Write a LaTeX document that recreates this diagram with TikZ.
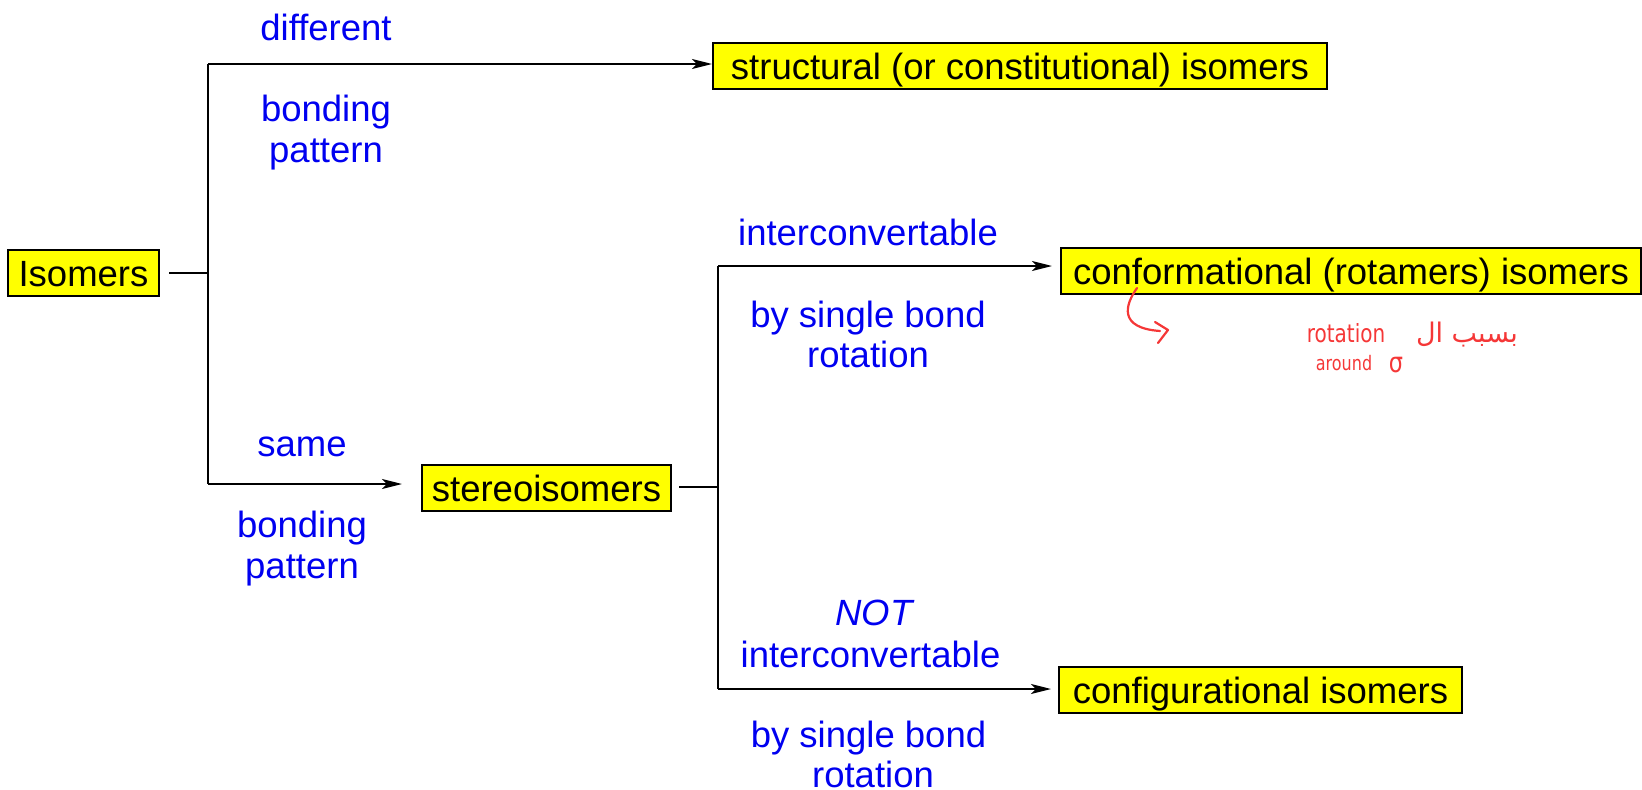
\documentclass[tikz,border=0pt]{standalone}
\usepackage{fontspec}
\setmainfont{Liberation Sans}
\newfontfamily\arabicfont[Script=Arabic]{DejaVu Sans}
\newfontfamily\handfont[FakeStretch=0.8]{DejaVu Sans}
\TeXXeTstate=1
\usetikzlibrary{arrows.meta}
\definecolor{lblblue}{RGB}{0,0,240}
\definecolor{boxyellow}{RGB}{255,255,0}
\definecolor{penred}{RGB}{245,55,55}
\begin{document}
\begin{tikzpicture}[x=1pt,y=-1pt,
  box/.style={draw=black, line width=2pt, fill=boxyellow, inner xsep=0pt, inner ysep=0pt,
    minimum height=46pt, text height=32pt, text depth=5pt,
    font=\fontsize{36.5}{42}\selectfont},
  lbl/.style={text=lblblue, inner sep=0pt, anchor=base, font=\fontsize{36.5}{42}\selectfont},
  conn/.style={draw=black, line width=2pt},
  arr/.style={conn, -{Stealth[length=20pt,width=10pt,inset=5pt]}},
  pen/.style={draw=penred, line width=2.2pt, line cap=round, line join=round},
  pentext/.style={text=penred, inner sep=0pt, anchor=base}]
\useasboundingbox (0,0) rectangle (1642,790);

% boxes
\node[box, minimum width=151pt] (iso) at (83.5,273) {Isomers};
\node[box, minimum width=614pt] (struct) at (1020,66) {structural (or constitutional) isomers};
\node[box, minimum width=249pt] (stereo) at (546.5,488) {stereoisomers};
\node[box, minimum width=580pt] (conf) at (1351,270.5) {conformational (rotamers) isomers};
\node[box, minimum width=403pt] (config) at (1260.5,690) {configurational isomers};

% first junction
\coordinate (a0) at (208,273);
\coordinate (atop) at (208,64);
\coordinate (abot) at (208,484);
\draw[conn] ([xshift=9pt]iso.east |- a0) -- (a0);
\draw[conn] (atop) -- (abot);
\draw[arr] (atop) -- (struct.west |- atop);
\draw[arr] (abot) -- ([xshift=-19pt]stereo.west |- abot);

% second junction
\coordinate (b0) at (718,487);
\coordinate (btop) at (718,266);
\coordinate (bbot) at (718,689);
\draw[conn] ([xshift=7pt]stereo.east |- b0) -- (b0);
\draw[conn] (btop) -- (bbot);
\draw[arr] (btop) -- ([xshift=-8pt]conf.west |- btop);
\draw[arr] (bbot) -- ([xshift=-7pt]config.west |- bbot);

% labels
\node[lbl] (l1) at (326,40) {different};
\node[lbl] (l2) at (326,121) {bonding};
\node[lbl] (l3) at (326,162) {pattern};
\node[lbl] (l4) at (302,456) {same};
\node[lbl] (l5) at (302,537) {bonding};
\node[lbl] (l6) at (302,578) {pattern};
\node[lbl] (l7) at (868,245) {interconvertable};
\node[lbl] (l8) at (868,327) {by single bond};
\node[lbl] (l9) at (868,367) {rotation};
\node[lbl] (l10) at (874,625) {\itshape NOT};
\node[lbl] (l11) at (870.5,667) {interconvertable};
\node[lbl] (l12) at (868.5,747) {by single bond};
\node[lbl] (l13) at (873,787) {rotation};

% handwritten annotation
\coordinate (h0) at (1137,288);
\coordinate (h1) at (1160,331);
\draw[pen] (h0) .. controls (1125,305) and (1118,328) .. (h1);
\draw[pen] (1155,322) -- (1168,330) -- (1158,343);
\node[pentext, font=\handfont\fontsize{25}{27}\selectfont] (r1) at (1346,342) {rotation};
\node[pentext, font=\arabicfont\fontsize{27}{29}\selectfont] (r2) at (1467,342) {\beginR بسبب ال\endR};
\node[pentext, font=\handfont\fontsize{20}{22}\selectfont] (r3) at (1344,370) {around};
\node[pentext, font=\handfont\fontsize{28}{30}\selectfont] (r4) at (1396,372) {σ};
\end{tikzpicture}
\end{document}
